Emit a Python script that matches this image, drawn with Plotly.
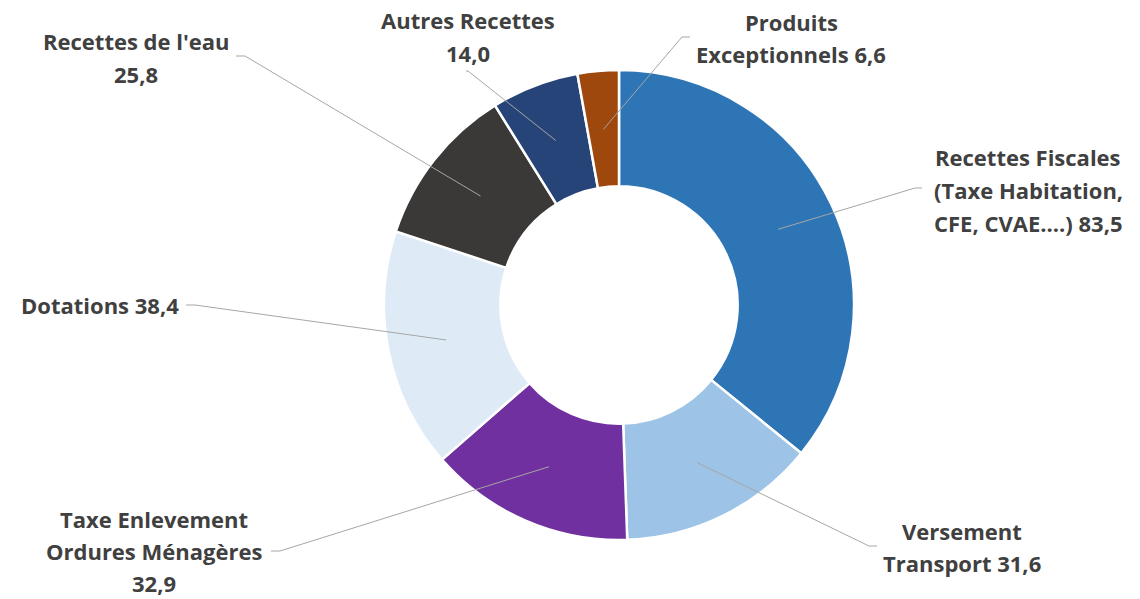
import math

import plotly.graph_objects as go

W, H = 1140, 599

categories = [
    "Recettes Fiscales (Taxe Habitation, CFE, CVAE....)",
    "Versement Transport",
    "Taxe Enlevement Ordures Ménagères",
    "Dotations",
    "Recettes de l'eau",
    "Autres Recettes",
    "Produits Exceptionnels",
]
values = [83.5, 31.6, 32.9, 38.4, 25.8, 14.0, 6.6]
label_lines = [
    ["Recettes Fiscales", "(Taxe Habitation,", "CFE, CVAE....) 83,5"],
    ["Versement", "Transport 31,6"],
    ["Taxe Enlevement", "Ordures Ménagères", "32,9"],
    ["Dotations 38,4"],
    ["Recettes de l'eau", "25,8"],
    ["Autres Recettes", "14,0"],
    ["Produits", "Exceptionnels 6,6"],
]
colors = ["#2E75B6", "#9DC3E6", "#7030A0", "#DEEBF7", "#3B3838", "#264478", "#9E480E"]

# layout: donut centre / radius in pixels, label placement (pixels)
cx, cy, R = 619, 305, 235
label_pos = [(1028, 190), (962, 547), (154, 551), (100, 305), (136, 58), (468, 37), (791, 38)]
line_gap = [33, 32, 32, 33, 33, 33, 32]
# leader line: (end near label, elbow)
leader = [
    ((922, 188), (915, 188)),
    ((877, 546), (869, 546)),
    ((271, 551), (280, 551)),
    ((186, 305), (195, 305)),
    ((236, 56), (245, 56)),
    ((466, 71), (468, 71)),
    ((690, 37), (682, 37)),
]


def px(x, y):
    return x / W, 1 - y / H


fig = go.Figure(
    go.Pie(
        labels=categories,
        values=values,
        hole=0.505,
        sort=False,
        direction="clockwise",
        rotation=0,
        marker=dict(colors=colors, line=dict(color="white", width=2.5)),
        textinfo="none",
        hoverinfo="label+value",
        domain=dict(
            x=[(cx - R) / W, (cx + R) / W],
            y=[1 - (cy + R) / H, 1 - (cy - R) / H],
        ),
        showlegend=False,
    )
)

total = sum(values)
cum = 0.0
for i, v in enumerate(values):
    mid = (cum + v / 2) / total * 2 * math.pi
    cum += v
    ax = cx + 0.75 * R * math.sin(mid)
    ay = cy - 0.75 * R * math.cos(mid)
    (ex, ey), (bx, by) = leader[i]
    p0, p1, p2 = px(ex, ey), px(bx, by), px(ax, ay)
    fig.add_shape(
        type="path",
        xref="paper",
        yref="paper",
        path=f"M {p0[0]},{p0[1]} L {p1[0]},{p1[1]} L {p2[0]},{p2[1]}",
        line=dict(color="#A6A6A6", width=1),
        layer="above",
    )
    lines = label_lines[i]
    x0, y0 = label_pos[i]
    for k, txt in enumerate(lines):
        yk = y0 + (k - (len(lines) - 1) / 2) * line_gap[i]
        lx, ly = px(x0, yk)
        fig.add_annotation(
            x=lx,
            y=ly,
            xref="paper",
            yref="paper",
            text=f"<b>{txt}</b>",
            showarrow=False,
            xanchor="center",
            yanchor="middle",
            font=dict(family="Open Sans", size=22, color="#404040"),
        )

fig.update_layout(
    width=W,
    height=H,
    margin=dict(l=0, r=0, t=0, b=0),
    paper_bgcolor="white",
    plot_bgcolor="white",
)
fig.write_html(
    "out.html",
    config={"displayModeBar": False},
    post_script="document.body.style.margin = '0';",
)
